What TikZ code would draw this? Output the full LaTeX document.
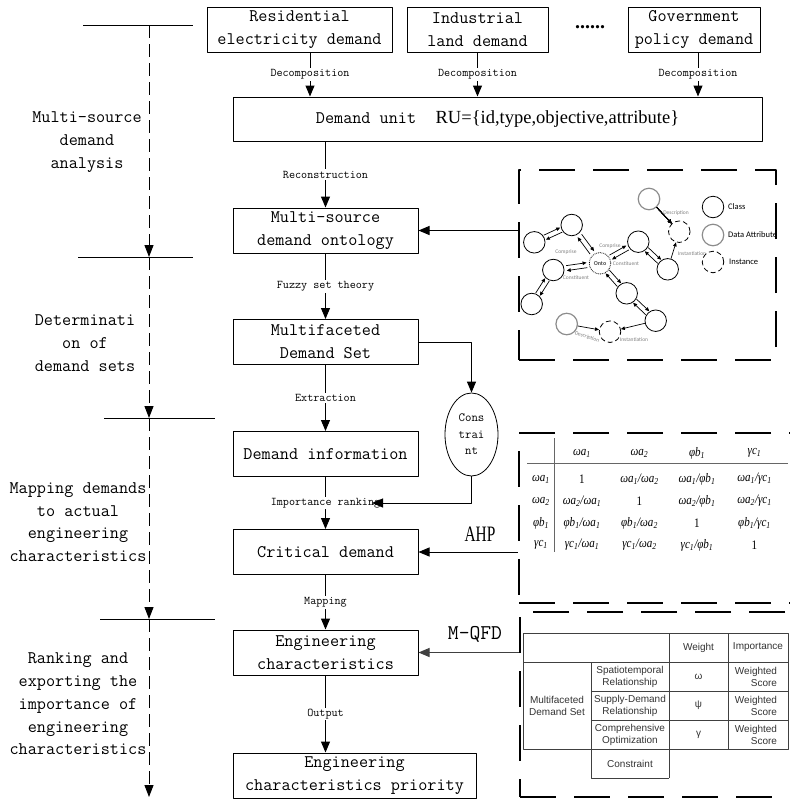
\documentclass[tikz,border=0pt]{standalone}
\usepackage{fontspec}
\usetikzlibrary{arrows.meta,calc,shapes.geometric}

\newfontfamily\boxfont{Latin Modern Mono}
\newfontfamily\serifnarrow[FakeStretch=0.7]{Liberation Serif}
\newfontfamily\rufont{Liberation Serif}
\newfontfamily\ahpfont[FakeStretch=0.85]{Liberation Serif}
\newfontfamily\qfdfont{Liberation Sans}
\newfontfamily\ontofont{Carlito}

\newcommand{\ahpA}{ωa\textsubscript{1}}
\newcommand{\ahpB}{ωa\textsubscript{2}}
\newcommand{\ahpC}{φb\textsubscript{1}}
\newcommand{\ahpD}{γc\textsubscript{1}}
\newcommand{\ahpr}[2]{#1/#2}
\newcommand{\pairarrow}[2]{%
  \draw[ontoarr] ($(#1)!0.28!(#2)!2.5pt!90:(#2)$) -- ($(#1)!0.72!(#2)!2.5pt!90:(#2)$);
  \draw[ontoarr] ($(#2)!0.28!(#1)!2.5pt!90:(#1)$) -- ($(#2)!0.72!(#1)!2.5pt!90:(#1)$);}

\begin{document}
\begin{tikzpicture}[x=1pt,y=-1pt,line join=round,
  box/.style={draw,line width=1pt,minimum height=45pt,inner sep=0pt,align=center,
    font=\boxfont\fontsize{17.7}{23}\selectfont},
  flow/.style={line width=1pt,-{Triangle[length=11pt,width=9pt]}},
  lab/.style={fill=white,inner sep=1.5pt,font=\boxfont\fontsize{11.8}{14}\selectfont},
  phase/.style={align=center,font=\boxfont\fontsize{17.7}{22.7}\selectfont},
  tick/.style={line width=1pt},
  timeline/.style={line width=1pt,dash pattern=on 13pt off 6pt,-{Triangle[length=12pt,width=9pt]}},
  panel/.style={draw,line width=2.5pt,dash pattern=on 36pt off 18pt,inner sep=0pt},
  cls/.style={circle,draw,line width=0.8pt,minimum size=21.5pt,inner sep=0pt},
  attr/.style={cls,draw=black!45,line width=1.2pt},
  inst/.style={cls,dash pattern=on 5pt off 3pt},
  ontoarr/.style={line width=0.7pt,-{Triangle[length=4pt,width=3.5pt]}},
  ontolab/.style={text=black!50,font=\ontofont\fontsize{5.5}{6}\selectfont,inner sep=0pt},
  legend/.style={anchor=west,font=\ontofont\fontsize{8.5}{9}\selectfont,inner sep=0pt},
  ahpcell/.style={font=\ahpfont\itshape\fontsize{13}{15}\selectfont,inner sep=0pt},
  qfd/.style={font=\qfdfont\fontsize{10}{12}\selectfont,text=black!80,align=center,inner sep=0pt},
  qfdline/.style={line width=0.8pt,draw=black!75}
]

\useasboundingbox (0,0) rectangle (790,804);
\clip (0,0) rectangle (790,804);

% phases on the left
\coordinate (t0) at (149,25);
\coordinate (t1) at (149,257);
\coordinate (t2) at (149,418);
\coordinate (t3) at (149,619);
\coordinate (t4) at (149,797);
\draw[timeline] (t0) -- (t1);
\draw[timeline] (t1) -- (t2);
\draw[timeline] (t2) -- (t3);
\draw[timeline] (t3) -- (t4);
\draw[tick] (83,25) -- (193,25);
\draw[tick] (78,257) -- (193,257);
\draw[tick] (104,418) -- (215,418);
\draw[tick] (100,619) -- (215,619);

\node[phase] (ph1) at (87,142) {Multi-source\\demand\\analysis};
\node[phase] (ph2) at (85,343) {Determinati\\on of\\demand sets};
\node[phase] (ph3) at (78,522) {Mapping demands\\to actual\\engineering\\characteristics};
\node[phase] (ph4) at (78,704) {Ranking and\\exporting the\\importance of\\engineering\\characteristics};

% main flow
\node[box,minimum width=185pt] (res) at (299.5,29.5) {Residential\\electricity demand};
\node[box,minimum width=141pt] (ind) at (477.5,29.5) {Industrial\\land demand};
\node[font=\rufont\bfseries\fontsize{20}{20}\selectfont] (dots) at (590,27) {......};
\node[box,minimum width=132pt] (gov) at (694,29.5) {Government\\policy demand};
\node[box,minimum width=529pt,minimum height=44pt] (unit) at (497.5,119)
  {Demand unit\hspace{1.1em}{\rufont\fontsize{18.5}{20}\selectfont RU=\{id,type,objective,attribute\}}};
\node[box,minimum width=185pt] (ontol) at (325.5,230.5) {Multi-source\\demand ontology};
\node[box,minimum width=185pt] (mset) at (325.5,342) {Multifaceted\\Demand Set};
\node[box,minimum width=185pt] (info) at (325.5,454) {Demand information};
\node[box,minimum width=185pt] (crit) at (325.5,552) {Critical demand};
\node[box,minimum width=185pt] (eng) at (325.5,652.5) {Engineering\\characteristics};
\node[box,minimum width=243pt] (prio) at (354.5,775.5) {Engineering\\characteristics priority};
\node[ellipse,draw,line width=0.8pt,minimum width=53pt,minimum height=83pt,inner sep=0pt,
  align=center,font=\boxfont\fontsize{12.5}{16.5}\selectfont] (cons) at (471.5,434.5) {Cons\\trai\\nt};

\draw[flow] ([xshift=10.5pt]res.south) -- ([xshift=10.5pt]res.south |- unit.north) node[lab,midway] {Decomposition};
\draw[flow] (ind.south) -- (ind.south |- unit.north) node[lab,midway] {Decomposition};
\draw[flow] ([xshift=4pt]gov.south) -- ([xshift=4pt]gov.south |- unit.north) node[lab,midway] {Decomposition};
\draw[flow] (ontol.north |- unit.south) -- (ontol.north) node[lab,midway] {Reconstruction};
\draw[flow] (ontol) -- (mset) node[lab,midway] {Fuzzy set theory};
\draw[flow] (mset) -- (info) node[lab,midway] {Extraction};
\draw[flow] (info) -- (crit) node[lab,midway] {Importance ranking};
\draw[flow] (crit) -- (eng) node[lab,midway] {Mapping};
\draw[flow] (eng.south) -- (eng.south |- prio.north) node[lab,midway] {Output};
\draw[flow] (mset.east) -| (cons.north);
\coordinate (rk) at (372,503);
\draw[flow] (cons.south) |- (rk);

% dashed panels on the right
\node[panel,minimum width=257pt,minimum height=190pt] (ontopanel) at (647.5,265) {};
\node[panel,minimum width=311pt,minimum height=170pt] (ahppanel) at (674.5,518) {};
\node[panel,minimum width=310pt,minimum height=185pt] (qfdpanel) at (675,704.5) {};

\draw[flow] (ontopanel.west |- ontol) -- (ontol);
\draw[flow] (ahppanel.west |- crit) -- (crit);
\draw[flow,draw=black!75] (qfdpanel.west |- eng) -- (eng);
\node[font=\serifnarrow\fontsize{22}{22}\selectfont] (ahp) at (480,534) {AHP};
\node[font=\boxfont\fontsize{21}{21}\selectfont] (mqfd) at (475,634) {M-QFD};

% ontology sketch
\foreach \n/\px/\py in {c1/571.7/225, c2/534.3/242.3, c3/553.3/270, c4/531.7/304,
    c6/638.3/241.7, c7/667.7/269.3, c8/626.7/293.3, c9/655.7/320.7}
  \node[cls] (\n) at (\px,\py) {};
\node[cls,densely dotted,text=black!70,font=\ontofont\bfseries\fontsize{6}{7}\selectfont] (onto) at (600,263.3) {Onto};
\node[attr] (da1) at (649,199) {};
\node[attr] (da2) at (566.7,324) {};
\node[inst] (in1) at (679.3,231.7) {};
\node[inst] (in2) at (610,331.7) {};

\foreach \a/\b in {c1/c2, c1/onto, c3/onto, c3/c4, onto/c6, onto/c8, c6/c7, c8/c9}
  \pairarrow{\a}{\b}
\draw[ontoarr] (da1) -- (in1);
\draw[ontoarr] (c7) -- (in1);
\draw[ontoarr] (da2) -- (in2);
\draw[ontoarr] (c9) -- (in2);

\node[ontolab] (lb1) at (676,213) {Description};
\node[ontolab] (lb2) at (566,252) {Comprise};
\node[ontolab] (lb3) at (610,246) {Comprise};
\node[ontolab] (lb4) at (626,264) {Constituent};
\node[ontolab] (lb5) at (692,254) {Instantiation};
\node[ontolab] (lb6) at (576,278) {Constituent};
\node[ontolab,rotate=-20] (lb7) at (587,337) {Description};
\node[ontolab] (lb8) at (634,339.5) {Instantiation};

\node[cls] (kcls) at (713,207) {};
\node[legend] (kclst) at (728,207) {Class};
\node[attr] (katt) at (713,235) {};
\node[legend] (kattt) at (728,235) {Data Attribute};
\node[inst] (kins) at (713,262) {};
\node[legend] (kinst) at (729,262) {Instance};

% AHP judgement matrix
\draw[line width=0.8pt,black!60] (554,438) -- (554,552);
\draw[line width=0.8pt,black!60] (527,463) -- (788,463);
\foreach \h [count=\j] in {\ahpA,\ahpB,\ahpC,\ahpD} {
  \node[ahpcell] (h\j) at (524.5+57.5*\j,453) {\h};
  \node[ahpcell] (r\j) at (541,457+22*\j) {\h};
}
\foreach \cells [count=\i] in {
    {{\upshape 1},\ahpr\ahpA\ahpB,\ahpr\ahpA\ahpC,\ahpr\ahpA\ahpD},
    {\ahpr\ahpB\ahpA,{\upshape 1},\ahpr\ahpB\ahpC,\ahpr\ahpB\ahpD},
    {\ahpr\ahpC\ahpA,\ahpr\ahpC\ahpB,{\upshape 1},\ahpr\ahpC\ahpD},
    {\ahpr\ahpD\ahpA,\ahpr\ahpD\ahpB,\ahpr\ahpD\ahpC,{\upshape 1}}}
  \foreach \cell [count=\j] in \cells
    \node[ahpcell] (m\i\j) at (524.5+57.5*\j,457+22*\i) {\cell};

% M-QFD table
\draw[qfdline] (523,633) rectangle (788,749);
\draw[qfdline] (523,662) -- (788,662);
\draw[qfdline] (591,691) -- (788,691);
\draw[qfdline] (591,720) -- (788,720);
\draw[qfdline] (591,662) -- (591,778) -- (669,778);
\draw[qfdline] (669,633) -- (669,778);
\draw[qfdline] (728,633) -- (728,749);
\node[qfd] (qw) at (698.5,647.5) {Weight};
\node[qfd] (qi) at (758,647.5) {Importance};
\node[qfd] (qm) at (557,705.5) {Multifaceted\\Demand Set};
\foreach \txt/\sym [count=\i] in {{Spatiotemporal\\Relationship}/ω,
    {Supply-Demand\\Relationship}/ψ, {Comprehensive\\Optimization}/γ} {
  \node[qfd] (qa\i) at (630,647.5+29*\i) {\txt};
  \node[qfd] (qb\i) at (698.5,647.5+29*\i) {\sym};
  \node[qfd,align=right] (qc\i) at (756,647.5+29*\i) {Weighted\\Score};
}
\node[qfd] (qcon) at (630,763.5) {Constraint};

\end{tikzpicture}
\end{document}
